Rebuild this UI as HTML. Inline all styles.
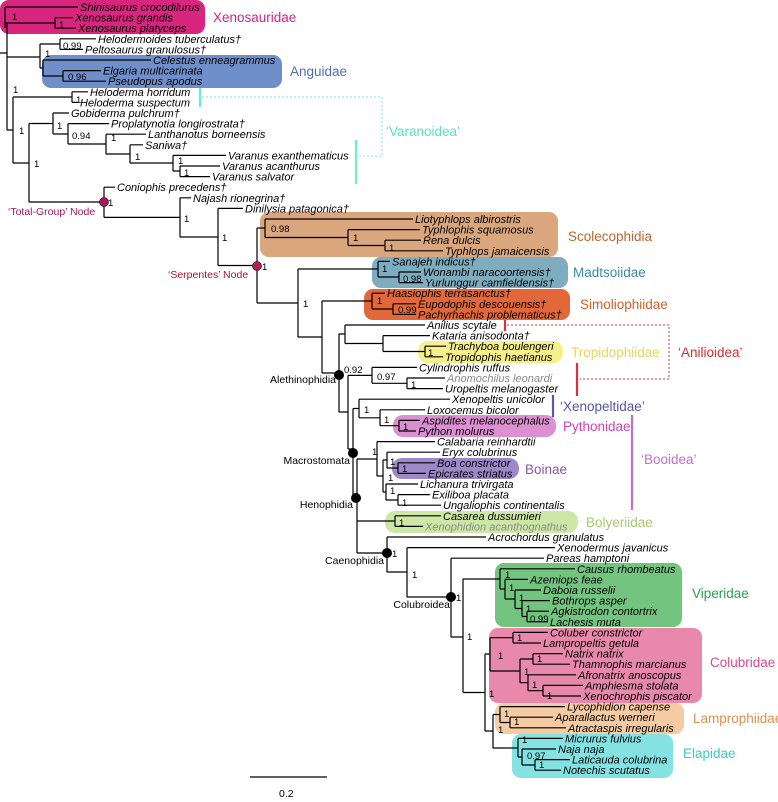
<!DOCTYPE html>
<html><head><meta charset="utf-8"><style>
html,body{margin:0;padding:0;background:#fff;}
svg{display:block;}
.t{font-family:"Liberation Sans",sans-serif;font-style:italic;font-size:11px;fill:#000;}
.g{fill:#8a8a8a;}
.s{font-family:"Liberation Sans",sans-serif;font-size:9.5px;fill:#000;}
.c{font-family:"Liberation Sans",sans-serif;font-size:13.5px;}
.n{font-family:"Liberation Sans",sans-serif;font-size:10.5px;}
</style></head><body>
<svg width="778" height="802" viewBox="0 0 778 802" xmlns="http://www.w3.org/2000/svg">
<!-- clade boxes -->
<rect x="0" y="0" width="205" height="34" rx="9" fill="#d8267f"/>
<rect x="42" y="55" width="240" height="33" rx="9" fill="#6f8fca"/>
<rect x="260" y="212" width="298" height="45" rx="9" fill="#daa67e"/>
<rect x="372" y="257" width="196" height="31" rx="9" fill="#7eadc0"/>
<rect x="364" y="289" width="206" height="31" rx="9" fill="#e2683a"/>
<rect x="418" y="341" width="145" height="22" rx="10" fill="#f6f08c"/>
<rect x="393" y="415" width="163" height="22" rx="10" fill="#dc90d2"/>
<rect x="392" y="458" width="127" height="21" rx="10" fill="#9d88ca"/>
<rect x="385" y="511" width="193" height="22" rx="10" fill="#cde8a6"/>
<rect x="495" y="563" width="187" height="64" rx="9" fill="#72c47f"/>
<rect x="489" y="628" width="213" height="75" rx="9" fill="#e888ab"/>
<rect x="495" y="703" width="189" height="31" rx="9" fill="#f4cba2"/>
<rect x="512" y="734" width="161" height="44" rx="9" fill="#84e2e2"/>

<!-- tree -->
<path fill="none" stroke="#000" stroke-width="1.2" d="
M0 53H7 M7 23V130 M7 57H40 M7 130H13
M5 7V28 M5 7H78 M5 23H55
M55 17.6V28.2 M55 17.6H73 M55 28.2H76
M40 44V68 M40 44H60 M40 68H43
M60 38.8V49.4 M60 38.8H96 M60 49.4H83
M43 60V76 M43 60H151 M43 76H63
M63 70.6V81.2 M63 70.6H101 M63 81.2H106
M13 97V163 M13 97H72 M13 163H29
M72 91.8V102.4 M72 91.8H88 M72 102.4H78
M29 123.5V202 M29 123.5H53 M29 202H104
M53 113V134 M53 113H69 M53 134H68
M68 123.6V144 M68 123.6H109 M68 144H106
M106 134.2V154 M106 134.2H146 M106 154H130
M130 144.8V163 M130 144.8H143 M130 163H173
M173 155.4V171 M173 155.4H226 M173 171H180
M180 166V176.6 M180 166H220 M180 176.6H210
M104 187.2V217.4 M104 187.2H115 M104 217.4H180
M180 197.8V237 M180 197.8H191 M180 237H218
M218 208.4V265.5 M218 208.4H243 M218 265.5H257
M257 228V303 M257 228H265 M257 303H298
M265 219V237.5 M265 219H413 M265 237.5H348
M348 229.6V245.5 M348 229.6H420 M348 245.5H385
M385 240.2V250.8 M385 240.2H421 M385 250.8H443
M298 269V337 M298 269H378 M298 337H322
M378 261.4V277 M378 261.4H390 M378 277H399
M399 272V282.6 M399 272H421 M399 282.6H423
M322 301V373 M322 301H372 M322 373H339
M372 293.2V309 M372 293.2H385 M372 309H393
M393 303.8V314.4 M393 303.8H416 M393 314.4H416
M339 334V412 M339 334H345 M339 412H348
M345 325V343.5 M345 325H425 M345 343.5H383
M383 335.6V351.5 M383 335.6H430 M383 351.5H425
M425 346.2V356.8 M425 346.2H446 M425 356.8H443
M348 375.4V449 M348 375.4H372 M348 449H353
M372 367.4V383.3 M372 367.4H417 M372 383.3H407
M407 378V388.6 M407 378H445 M407 388.6H443
M353 408.5V500 M353 408.5H359 M353 500H357
M359 399.2V417.8 M359 399.2H450 M359 417.8H380
M380 409.8V425.7 M380 409.8H425 M380 425.7H399
M399 420.4V431 M399 420.4H420 M399 431H416
M357 459V553 M357 459H377 M357 521H395 M357 553H387
M377 441.6V476 M377 441.6H435 M377 476H383
M383 460V492 M383 460H387 M383 492H386
M387 452.2V468 M387 452.2H440 M387 468H398
M398 462.8V473.4 M398 462.8H435 M398 473.4H426
M386 484V500 M386 484H418 M386 500H398
M398 494.6V505.2 M398 494.6H430 M398 505.2H441
M395 515.8V526.4 M395 515.8H441 M395 526.4H423
M387 537V572 M387 537H486 M387 572H407
M407 547.6V597 M407 547.6H555 M407 597H451
M451 558.2V637 M451 558.2H544 M451 637H463
M463 579V692.5 M463 579H500 M463 692.5H485
M500 568.8V589 M500 568.8H575 M500 589H505
M505 579.4V599 M505 579.4H528 M505 599H515
M515 590V608.5 M515 590H541 M515 608.5H522
M522 600.6V616.5 M522 600.6H550 M522 616.5H527
M527 611.2V621.8 M527 611.2H549 M527 621.8H548
M485 654V731 M485 654H490 M485 731H493
M490 637.7V671 M490 637.7H513 M490 671H520
M513 632.4V643 M513 632.4H548 M513 643H541
M520 659V682.7 M520 659H533 M520 682.7H528
M533 653.6V664.2 M533 653.6H563 M533 664.2H570
M528 674.8V690.7 M528 674.8H576 M528 690.7H543
M543 685.4V696 M543 685.4H583 M543 696H581
M493 714.5V748 M493 714.5H500 M493 748H518
M500 706.6V722.5 M500 706.6H565 M500 722.5H510
M510 717.2V727.8 M510 717.2H553 M510 727.8H566
M518 738.4V757 M518 738.4H563 M518 757H522
M522 749V765 M522 749H556 M522 765H535
M535 759.6V770.2 M535 759.6H570 M535 770.2H561
M250 777H327
"/>

<!-- taxa -->
<g class="t">
<text x="80" y="11">Shinisaurus crocodilurus</text>
<text x="75" y="21.6">Xenosaurus grandis</text>
<text x="78" y="32.2">Xenosaurus platyceps</text>
<text x="98" y="42.8">Helodermoides tuberculatus†</text>
<text x="85" y="53.4">Peltosaurus granulosus†</text>
<text x="153" y="64">Celestus enneagrammus</text>
<text x="103" y="74.6">Elgaria multicarinata</text>
<text x="108" y="85.2">Pseudopus apodus</text>
<text x="90" y="95.8">Heloderma horridum</text>
<text x="80" y="106.4">Heloderma suspectum</text>
<text x="71" y="117">Gobiderma pulchrum†</text>
<text x="111" y="127.6">Proplatynotia longirostrata†</text>
<text x="148" y="138.2">Lanthanotus borneensis</text>
<text x="145" y="148.8">Saniwa†</text>
<text x="228" y="159.4">Varanus exanthematicus</text>
<text x="222" y="170">Varanus acanthurus</text>
<text x="212" y="180.6">Varanus salvator</text>
<text x="117" y="191.2">Coniophis precedens†</text>
<text x="193" y="201.8">Najash rionegrina†</text>
<text x="245" y="212.4">Dinilysia patagonica†</text>
<text x="415" y="223">Liotyphlops albirostris</text>
<text x="422" y="233.6">Typhlophis squamosus</text>
<text x="423" y="244.2">Rena dulcis</text>
<text x="445" y="254.8">Typhlops jamaicensis</text>
<text x="392" y="265.4">Sanajeh indicus†</text>
<text x="423" y="276">Wonambi naracoortensis†</text>
<text x="425" y="286.6">Yurlunggur camfieldensis†</text>
<text x="387" y="297.2">Haasiophis terrasanctus†</text>
<text x="418" y="307.8">Eupodophis descouensis†</text>
<text x="418" y="318.4">Pachyrhachis problematicus†</text>
<text x="427" y="329">Anilius scytale</text>
<text x="432" y="339.6">Kataria anisodonta†</text>
<text x="448" y="350.2">Trachyboa boulengeri</text>
<text x="445" y="360.8">Tropidophis haetianus</text>
<text x="419" y="371.4">Cylindrophis ruffus</text>
<text x="447" y="382" class="t g">Anomochilus leonardi</text>
<text x="445" y="392.6">Uropeltis melanogaster</text>
<text x="452" y="403.2">Xenopeltis unicolor</text>
<text x="427" y="413.8">Loxocemus bicolor</text>
<text x="422" y="424.4">Aspidites melanocephalus</text>
<text x="418" y="435">Python molurus</text>
<text x="437" y="445.6">Calabaria reinhardtii</text>
<text x="442" y="456.2">Eryx colubrinus</text>
<text x="437" y="466.8">Boa constrictor</text>
<text x="428" y="477.4">Epicrates striatus</text>
<text x="420" y="488">Lichanura trivirgata</text>
<text x="432" y="498.6">Exiliboa placata</text>
<text x="443" y="509.2">Ungaliophis continentalis</text>
<text x="443" y="519.8">Casarea dussumieri</text>
<text x="425" y="530.4" class="t g">Xenophidion acanthognathus</text>
<text x="488" y="541">Acrochordus granulatus</text>
<text x="557" y="551.6">Xenodermus javanicus</text>
<text x="546" y="562.2">Pareas hamptoni</text>
<text x="577" y="572.8">Causus rhombeatus</text>
<text x="530" y="583.4">Azemiops feae</text>
<text x="543" y="594">Daboia russelii</text>
<text x="552" y="604.6">Bothrops asper</text>
<text x="551" y="615.2">Agkistrodon contortrix</text>
<text x="550" y="625.8">Lachesis muta</text>
<text x="550" y="636.4">Coluber constrictor</text>
<text x="543" y="647">Lampropeltis getula</text>
<text x="565" y="657.6">Natrix natrix</text>
<text x="572" y="668.2">Thamnophis marcianus</text>
<text x="578" y="678.8">Afronatrix anoscopus</text>
<text x="585" y="689.4">Amphiesma stolata</text>
<text x="583" y="700">Xenochrophis piscator</text>
<text x="567" y="710.6">Lycophidion capense</text>
<text x="555" y="721.2">Aparallactus werneri</text>
<text x="568" y="731.8">Atractaspis irregularis</text>
<text x="565" y="742.4">Micrurus fulvius</text>
<text x="558" y="753">Naja naja</text>
<text x="572" y="763.6">Laticauda colubrina</text>
<text x="563" y="774.2">Notechis scutatus</text>
</g>

<!-- support values -->
<g class="s">
<text x="12" y="20">1</text><text x="59" y="28">1</text><text x="63" y="49">0.99</text>
<text x="45" y="57">1</text><text x="68" y="80">0.96</text><text x="13" y="93">1</text>
<text x="76" y="103">1</text><text x="19" y="134">1</text><text x="34" y="167">1</text>
<text x="57" y="129">1</text><text x="72" y="139">0.94</text><text x="111" y="141">1</text>
<text x="135" y="160">1</text><text x="178" y="164">1</text><text x="184" y="176">1</text>
<text x="108" y="206">1</text><text x="184" y="222">1</text><text x="222" y="241">1</text>
<text x="262" y="270">1</text><text x="271" y="232">0.98</text><text x="353" y="241">1</text>
<text x="389" y="251">1</text><text x="382" y="272">1</text><text x="403" y="282">0.98</text>
<text x="303" y="307">1</text><text x="377" y="304">1</text><text x="398" y="313">0.99</text>
<text x="344" y="373">0.92</text><text x="377" y="380">0.97</text><text x="411" y="388">1</text>
<text x="428" y="356">1</text><text x="364" y="413">1</text><text x="384" y="423">1</text>
<text x="403" y="430">1</text><text x="372" y="455">1</text><text x="390" y="465">1</text>
<text x="402" y="472">1</text><text x="388" y="481">1</text><text x="390" y="494">1</text>
<text x="402" y="506">1</text><text x="399" y="526">1</text><text x="392" y="557">1</text>
<text x="412" y="578">1</text><text x="456" y="601">1</text><text x="467" y="640">1</text>
<text x="505" y="578">1</text><text x="509" y="591">1</text><text x="519" y="601">1</text>
<text x="526" y="612">1</text><text x="530" y="622">0.99</text><text x="517" y="641">1</text>
<text x="498" y="659">1</text><text x="537" y="662">1</text><text x="524" y="675">1</text>
<text x="532" y="688">1</text><text x="547" y="699">1</text><text x="489" y="697">1</text>
<text x="504" y="717">1</text><text x="514" y="725">1</text><text x="498" y="733">1</text>
<text x="522" y="743">1</text><text x="527" y="759">0.97</text><text x="539" y="768">1</text>
</g>

<!-- node dots and labels -->
<circle cx="104" cy="202" r="4.5" fill="#a5195d" stroke="#000" stroke-width="0.6"/>
<circle cx="257" cy="266" r="4.5" fill="#b2204e" stroke="#000" stroke-width="0.6"/>
<circle cx="339" cy="375" r="5" fill="#000"/>
<circle cx="353" cy="453" r="5" fill="#000"/>
<circle cx="356" cy="498" r="5" fill="#000"/>
<circle cx="387" cy="553" r="5" fill="#000"/>
<circle cx="451" cy="597" r="5" fill="#000"/>
<g class="n">
<text x="8" y="215" fill="#a0196a">‘Total-Group’ Node</text>
<text x="168" y="278" fill="#a01830">‘Serpentes’ Node</text>
<text x="336" y="383" text-anchor="end">Alethinophidia</text>
<text x="350" y="464" text-anchor="end">Macrostomata</text>
<text x="353" y="508" text-anchor="end">Henophidia</text>
<text x="384" y="564" text-anchor="end">Caenophidia</text>
<text x="450" y="608" text-anchor="end">Colubroidea</text>
<text x="279" y="797">0.2</text>
</g>

<!-- brackets -->
<g fill="none" stroke-width="2.2">
<path d="M200 88V107 M356 140V184" stroke="#6cefd0"/>
<path d="M505 320V331 M577 363V396" stroke="#e03040"/>
<path d="M553 395V417" stroke="#5858a8"/>
<path d="M632 415V510" stroke="#c070c8"/>
</g>
<g fill="none" stroke-width="1" stroke-dasharray="2,2">
<path d="M202 97H382V156H358" stroke="#6cefd0"/>
<path d="M507 325H669V379H580" stroke="#e03040"/>
</g>

<!-- clade names -->
<g class="c">
<text x="213" y="22" fill="#c8278a">Xenosauridae</text>
<text x="290" y="76" fill="#4f6fb0">Anguidae</text>
<text x="386" y="136" fill="#5ee0c0">‘Varanoidea’</text>
<text x="568" y="241" fill="#b8682e">Scolecophidia</text>
<text x="573" y="277" fill="#3d8aa0">Madtsoiidae</text>
<text x="580" y="309" fill="#d2602a">Simoliophiidae</text>
<text x="571" y="357" fill="#e6d560">Tropidophiidae</text>
<text x="678" y="357" fill="#d03030">‘Anilioidea’</text>
<text x="560" y="411" fill="#5555aa">‘Xenopeltidae’</text>
<text x="563" y="431" fill="#cc44b8">Pythonidae</text>
<text x="641" y="464" fill="#c070c8">‘Booidea’</text>
<text x="525" y="474" fill="#8a5aa8">Boinae</text>
<text x="586" y="527" fill="#a8c870">Bolyeriidae</text>
<text x="692" y="598" fill="#2ea050">Viperidae</text>
<text x="710" y="667" fill="#d84a8a">Colubridae</text>
<text x="693" y="723" fill="#e09050">Lamprophiidae</text>
<text x="683" y="758" fill="#3ec8c8">Elapidae</text>
</g>
</svg>
</body></html>
